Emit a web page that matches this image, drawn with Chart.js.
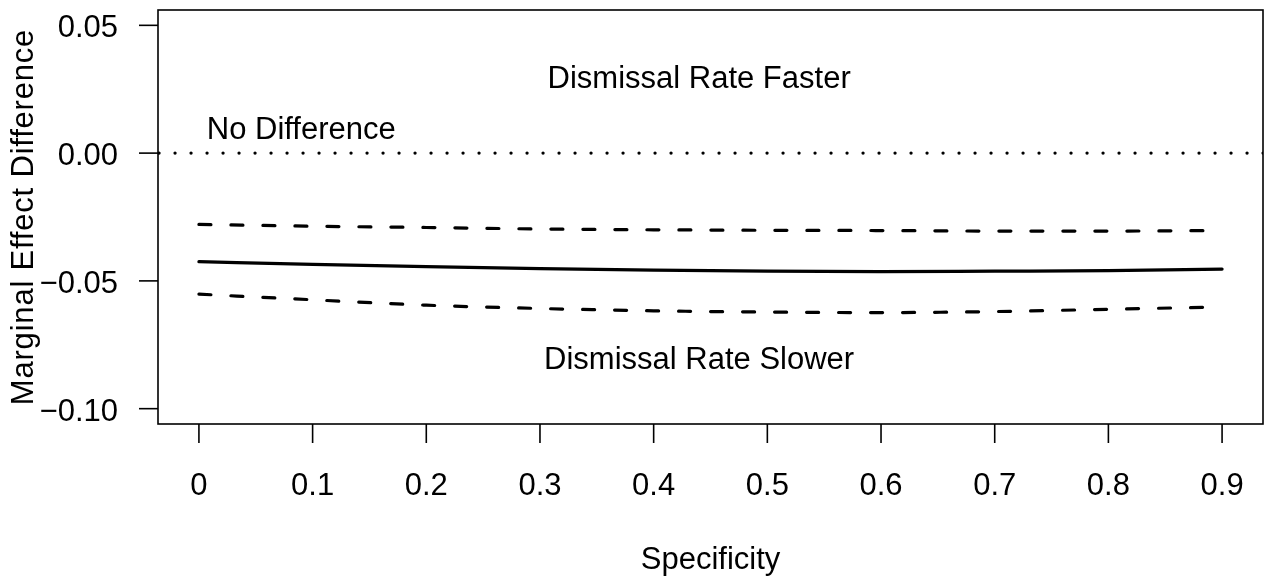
<!DOCTYPE html>
<html>
<head>
<meta charset="utf-8">
<script src="https://cdn.jsdelivr.net/npm/chart.js@4"></script>
<style>
  body { margin: 0; background: #fff; }
  canvas { display: block; }
</style>
</head>
<body>
<canvas id="me-canvas" width="1270" height="580"></canvas>
<script>
const specificity = [0, 0.1, 0.2, 0.3, 0.4, 0.5, 0.6, 0.7, 0.8, 0.9];
const estimate = [-0.0425, -0.0435, -0.0444, -0.0452, -0.0458, -0.0462, -0.0464, -0.0462, -0.0460, -0.0454];
const upperCI = [-0.0279, -0.0286, -0.0291, -0.0297, -0.0300, -0.0302, -0.0303, -0.0305, -0.0305, -0.0303];
const lowerCI = [-0.0552, -0.0574, -0.0595, -0.0608, -0.0617, -0.0622, -0.0624, -0.0620, -0.0611, -0.0602];
const xTicks = [0, 0.1, 0.2, 0.3, 0.4, 0.5, 0.6, 0.7, 0.8, 0.9];
const xTickLabels = ["0", "0.1", "0.2", "0.3", "0.4", "0.5", "0.6", "0.7", "0.8", "0.9"];
const yTicks = [0.05, 0, -0.05, -0.1];
const yTickLabels = ["0.05", "0.00", "\u22120.05", "\u22120.10"];
const xTitle = "Specificity";
const yTitle = "Marginal Effect Difference";
const notes = ["Dismissal Rate Faster", "No Difference", "Dismissal Rate Slower"];

const FONT_SIZE = 31;
const FONT = FONT_SIZE + 'px "Liberation Sans", Arial, sans-serif';
// half the cap height, to centre text on a point like R's text() does
const CAP_MID = 0.358 * FONT_SIZE;

function toPoints(xs, ys) {
    return xs.map((x, i) => ({ x: x, y: ys[i] }));
}

const basePlot = {
    id: "basePlot",
    afterDraw(chart) {
        const ctx = chart.ctx;
        const a = chart.chartArea;
        const xs = chart.scales.x;
        const ys = chart.scales.y;
        ctx.save();
        ctx.strokeStyle = "#000";
        ctx.fillStyle = "#000";
        ctx.lineWidth = 1.6;
        ctx.strokeRect(a.left, a.top, a.right - a.left, a.bottom - a.top);

        ctx.font = FONT;
        ctx.textBaseline = "alphabetic";
        // x axis ticks
        ctx.textAlign = "center";
        xTicks.forEach((v, i) => {
            const px = xs.getPixelForValue(v);
            ctx.beginPath();
            ctx.moveTo(px, a.bottom);
            ctx.lineTo(px, a.bottom + 19);
            ctx.stroke();
            ctx.fillText(xTickLabels[i], px, 495);
        });
        // y axis ticks
        ctx.textAlign = "right";
        yTicks.forEach((v, i) => {
            const py = ys.getPixelForValue(v);
            ctx.beginPath();
            ctx.moveTo(a.left, py);
            ctx.lineTo(a.left - 19, py);
            ctx.stroke();
            ctx.fillText(yTickLabels[i], 118, py + 12);
        });
        // titles
        ctx.textAlign = "center";
        ctx.fillText(xTitle, (a.left + a.right) / 2, 569);
        ctx.save();
        ctx.translate(33, (a.top + a.bottom) / 2);
        ctx.rotate(-Math.PI / 2);
        ctx.letterSpacing = "0.8px";
        ctx.fillText(yTitle, 0, 0);
        ctx.restore();

        // annotations
        ctx.fillText(notes[0], xs.getPixelForValue(0.44), ys.getPixelForValue(0.03) + CAP_MID);
        ctx.fillText(notes[1], xs.getPixelForValue(0.09), ys.getPixelForValue(0.01) + CAP_MID);
        ctx.fillText(notes[2], xs.getPixelForValue(0.44), ys.getPixelForValue(-0.08) + CAP_MID);
        ctx.restore();
    },
};

const lineStyle = {
    showLine: true,
    pointRadius: 0,
    borderColor: "#000",
    borderWidth: 3.2,
    borderCapStyle: "round",
    cubicInterpolationMode: "monotone",
    fill: false,
};

new Chart(document.querySelector("#me-canvas"), {
    type: "scatter",
    data: {
        datasets: [
            Object.assign({}, lineStyle, {
                label: "No difference",
                data: [{ x: -0.036, y: 0 }, { x: 0.936, y: 0 }],
                borderDash: [0.1, 15.9],
                borderDashOffset: -1,
            }),
            Object.assign({}, lineStyle, {
                label: "Estimate",
                data: toPoints(specificity, estimate),
            }),
            Object.assign({}, lineStyle, {
                label: "Upper",
                data: toPoints(specificity, upperCI),
                borderDash: [12, 20],
            }),
            Object.assign({}, lineStyle, {
                label: "Lower",
                data: toPoints(specificity, lowerCI),
                borderDash: [12, 20],
            }),
        ],
    },
    options: {
        responsive: false,
        animation: false,
        devicePixelRatio: 1,
        layout: { padding: { left: 158, right: 7, top: 10, bottom: 156 } },
        plugins: { legend: { display: false }, tooltip: { enabled: false } },
        scales: {
            x: { type: "linear", min: -0.036, max: 0.936, display: false },
            y: { type: "linear", min: -0.106, max: 0.056, display: false },
        },
    },
    plugins: [basePlot],
});
</script>
</body>
</html>
